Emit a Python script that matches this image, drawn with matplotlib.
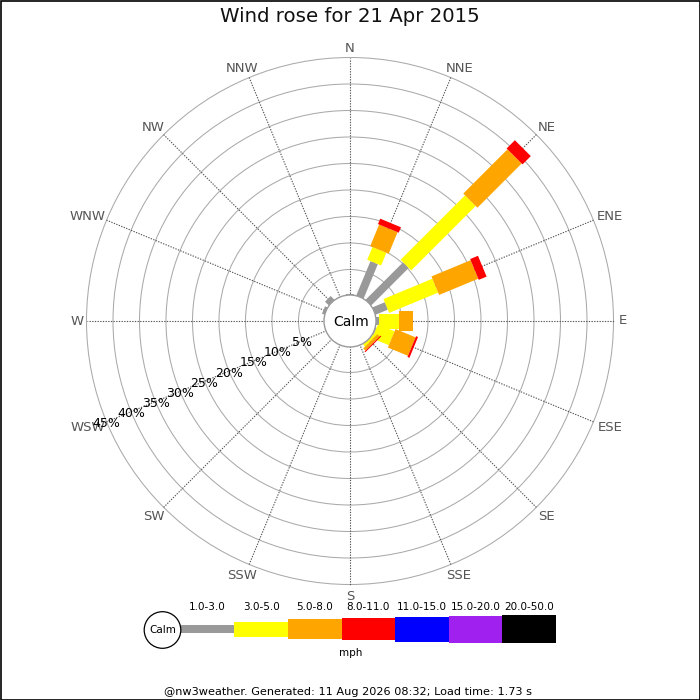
import numpy as np
import matplotlib
matplotlib.use("Agg")
import matplotlib.pyplot as plt
from matplotlib.patches import Polygon, Circle, Rectangle

# ---------------- data ----------------
directions = ['N', 'NNE', 'NE', 'ENE', 'E', 'ESE', 'SE', 'SSE',
              'S', 'SSW', 'SW', 'WSW', 'W', 'WNW', 'NW', 'NNW']
speed_bins = ['1.0-3.0', '3.0-5.0', '5.0-8.0', '8.0-11.0',
              '11.0-15.0', '15.0-20.0', '20.0-50.0']
# percent frequency per direction for each speed bin
s_1_3   = [0.4, 7.2, 10.2, 2.7, 0.7, 0.4, 0.2, 0, 0, 0, 0, 0, 0, 0.7, 1.2, 0]
s_3_5   = [0,   2.6, 17.2, 10.0, 3.8, 3.4, 0.5, 0, 0, 0, 0, 0, 0, 0,   0,   0]
s_5_8   = [0,   4.4, 11.8, 8.0, 2.7, 4.1, 0.6, 0, 0, 0, 0, 0, 0, 0,   0,   0]
s_8_11  = [0,   1.1, 2.2,  1.6, 0,   0.4, 0.2, 0, 0, 0, 0, 0, 0, 0,   0,   0]
s_11_15 = [0] * 16
s_15_20 = [0] * 16
s_20_50 = [0] * 16
series = [s_1_3, s_3_5, s_5_8, s_8_11, s_11_15, s_15_20, s_20_50]
ring_pcts = [5, 10, 15, 20, 25, 30, 35, 40, 45]
title = 'Wind rose for 21 Apr 2015'
footer = '@nw3weather. Generated: 11 Aug 2026 08:32; Load time: 1.73 s'

# ---------------- style ----------------
colors = ['#999999', '#ffff00', '#ffa500', '#ff0000', '#0000ff', '#a020f0', '#000000']
bar_w = [8, 15, 20, 22.5, 25, 27, 28]      # pixel widths of the bars
CX, CY = 350, 321                          # centre of rose (pixels)
R0, K = 25.0, 5.3                          # calm radius, px per percent

def rad(p):
    return R0 + K * p

fig = plt.figure(figsize=(7, 7), dpi=100)
ax = fig.add_axes([0, 0, 1, 1])
ax.set_xlim(0, 700)
ax.set_ylim(700, 0)
ax.set_aspect('equal')
ax.axis('off')
renderer = fig.canvas.get_renderer()

# rings
for p in ring_pcts:
    ax.add_patch(Circle((CX, CY), rad(p), fill=False, ec='#aaaaaa', lw=0.75, zorder=1))

# spokes + direction labels
Rout = rad(ring_pcts[-1])
for i, d in enumerate(directions):
    th = np.deg2rad(22.5 * i)
    ux, uy = np.sin(th), -np.cos(th)
    ax.plot([CX + R0 * ux, CX + Rout * ux], [CY + R0 * uy, CY + Rout * uy],
            ls=(0, (1.2, 1.2)), color='#555555', lw=0.8, zorder=1)
    t = ax.text(0, 0, d, ha='center', va='center', fontsize=9.5, color='#555555')
    bb = t.get_window_extent(renderer)
    hw, hh = bb.width / 2, bb.height / 2
    dx = 2 if ux > 0.01 else 0
    dy = 2.5 if uy > 0.01 else 0
    t.set_position((CX + (Rout + 3) * ux + hw * ux + dx,
                    CY + (Rout + 3) * uy + hh * uy + dy))

# bars
for i in range(len(directions)):
    th = np.deg2rad(22.5 * i)
    u = np.array([np.sin(th), -np.cos(th)])
    v = np.array([np.cos(th), np.sin(th)])
    cum = 0.0
    for j, s in enumerate(series):
        val = s[i]
        if val <= 0:
            continue
        r1, r2 = rad(cum), rad(cum + val)
        h = bar_w[j] / 2
        c = np.array([CX, CY])
        pts = [c + r1 * u - h * v, c + r2 * u - h * v,
               c + r2 * u + h * v, c + r1 * u + h * v]
        ax.add_patch(Polygon(pts, closed=True, fc=colors[j], ec='none', lw=0, zorder=3))
        cum += val

# calm circle
ax.add_patch(Circle((CX, CY), R0 + 1, fc='white', ec='#999999', lw=1, zorder=4))
ax.text(CX + 1, CY + 1, 'Calm', ha='center', va='center', fontsize=10, color='black', zorder=5)

# percentage labels along WSW
th = np.deg2rad(247.5)
ux, uy = np.sin(th), -np.cos(th)
for p in ring_pcts:
    r = rad(p)
    ax.text(CX + r * ux, CY + r * uy + 2, f'{p}%', ha='center', va='center',
            fontsize=9, color='black', zorder=5)

# title
ax.text(350, 17, title, ha='center', va='center', fontsize=14.2, color='#111111')

# legend
ax.add_patch(Circle((162.5, 630), 18.3, fc='white', ec='black', lw=0.9, zorder=4))
ax.text(162.5, 630, 'Calm', ha='center', va='center', fontsize=7.5, zorder=5)
x0, seg = 180.7, 53.6
for j, lab in enumerate(speed_bins):
    h = bar_w[j]
    ax.add_patch(Rectangle((x0 + j * seg, 629 - h / 2), seg, h, fc=colors[j], ec='none', zorder=3))
    ax.text(x0 + (j + 0.5) * seg, 607, lab, ha='center', va='center', fontsize=7.5)
ax.text(350.5, 653.5, 'mph', ha='center', va='center', fontsize=7.5)

# footer
ax.text(348, 692, footer, ha='center', va='center', fontsize=8.15)

# border
ax.add_patch(Rectangle((0.5, 0.5), 699, 699, fill=False, ec='black', lw=1.2, zorder=6))

fig.savefig('out.png', dpi=100)
